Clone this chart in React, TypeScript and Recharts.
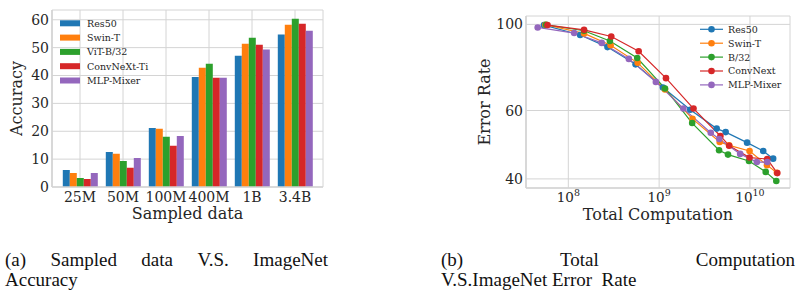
import React from "react";
import { BarChart, Bar, LineChart, Line, XAxis, YAxis, CartesianGrid } from "recharts";

// (a) accuracy vs sampled data size
const dataSizes = ["25M", "50M", "100M", "400M", "1B", "3.4B"];
const res50Acc = [6.1, 12.6, 21.2, 39.5, 47.1, 54.7];
const swinAcc = [5.0, 11.9, 20.9, 42.8, 51.4, 58.2];
const vitAcc = [3.2, 9.3, 18.0, 44.2, 53.5, 60.4];
const convnextAcc = [2.9, 6.9, 14.8, 39.2, 51.0, 58.6];
const mlpAcc = [5.0, 10.4, 18.3, 39.2, 49.3, 56.1];
const accTicks = [0, 10, 20, 30, 40, 50, 60];
const barNames = ["Res50", "Swin-T", "ViT-B/32", "ConvNeXt-Ti", "MLP-Mixer"];
const barKeys = ["res50", "swin", "vit", "convnext", "mlp"];

// (b) error rate vs total computation
const res50Compute = [5.4e7, 1.35e8, 2.7e8, 5.5e8, 1.1e9, 2.2e9, 4.3e9, 5.4e9, 9.3e9, 1.4e10, 1.8e10];
const res50Error = [99.6, 93.9, 87.4, 78.9, 68.8, 60.3, 53.9, 52.8, 49.6, 47.2, 45.1];
const swinCompute = [5.6e7, 1.49e8, 2.92e8, 5.8e8, 1.16e9, 2.33e9, 4.64e9, 5.9e9, 9.9e9, 1.54e10, 1.98e10];
const swinError = [99.8, 94.8, 88.4, 79.6, 68.0, 57.1, 49.8, 48.8, 47.2, 43.4, 41.5];
const vitCompute = [5.7e7, 1.49e8, 2.87e8, 5.74e8, 1.16e9, 2.31e9, 4.57e9, 5.73e9, 9.75e9, 1.49e10, 1.95e10];
const vitError = [99.8, 96.3, 90.6, 81.9, 68.4, 55.7, 47.4, 46.2, 44.5, 41.7, 39.5];
const convCompute = [5.9e7, 1.49e8, 2.97e8, 5.95e8, 1.19e9, 2.39e9, 4.73e9, 5.9e9, 9.9e9, 1.55e10, 2.0e10];
const convError = [99.6, 96.8, 93.1, 85.3, 72.7, 60.7, 51.6, 48.7, 45.4, 45.0, 41.4];
const mlpCompute = [4.6e7, 1.16e8, 2.33e8, 4.64e8, 9.2e8, 1.85e9, 3.7e9, 4.6e9, 7.8e9, 1.19e10, 1.55e10];
const mlpError = [98.2, 95.0, 89.6, 81.5, 71.1, 60.7, 52.6, 50.7, 46.4, 44.2, 44.2];
const lineNames = ["Res50", "Swin-T", "B/32", "ConvNext", "MLP-Mixer"];
const computeTicks = [1e8, 1e9, 1e10];
const errorTicks = [40, 60, 100];

const COLORS = ["#1f77b4", "#ff7f0e", "#2ca02c", "#d62728", "#9467bd"];
const GRID = "#d4d4d4";
const TEXT = "#262626";
const SERIF = "'DejaVu Serif', serif";
const frameLine = { stroke: "#d4d4d4", strokeWidth: 1.6 };

const accSeries = [res50Acc, swinAcc, vitAcc, convnextAcc, mlpAcc];
const barData = dataSizes.map((size, i) => {
  const row: any = { size };
  barKeys.forEach((k, j) => {
    row[k] = accSeries[j][i];
  });
  return row;
});

const computeSeries = [res50Compute, swinCompute, vitCompute, convCompute, mlpCompute];
const errorSeries = [res50Error, swinError, vitError, convError, mlpError];
const lineData = computeSeries.map((xs, j) => xs.map((x, i) => ({ x, y: errorSeries[j][i] })));

const tickStyle = { fontSize: 14, fill: TEXT, fontFamily: SERIF };

function PowerTick(props: any) {
  const { x, y, payload } = props;
  const exp = Math.round(Math.log10(payload.value));
  return (
    <text x={x} y={y + 14} textAnchor="middle" fontFamily={SERIF} fill={TEXT}>
      <tspan fontSize={13.5}>10</tspan>
      <tspan fontSize={9.5} dy={-6}>{exp}</tspan>
    </text>
  );
}

function xTitle(text: string, dy: number) {
  return {
    value: text,
    content: (p: any) => (
      <text
        x={p.viewBox.x + p.viewBox.width / 2}
        y={p.viewBox.y + dy}
        textAnchor="middle"
        fontSize={16}
        fontFamily={SERIF}
        fill={TEXT}
      >
        {text}
      </text>
    ),
  };
}

function yTitle(text: string, baseX: number) {
  return {
    value: text,
    content: (p: any) => {
      const cy = p.viewBox.y + p.viewBox.height / 2;
      return (
        <text
          x={baseX}
          y={cy}
          transform={`rotate(-90, ${baseX}, ${cy})`}
          textAnchor="middle"
          fontSize={16}
          fontFamily={SERIF}
          fill={TEXT}
        >
          {text}
        </text>
      );
    },
  };
}

function AccuracyChart() {
  return (
    <BarChart
      width={330}
      height={225}
      data={barData}
      margin={{ top: 10, right: 7, left: 0, bottom: 0 }}
      barCategoryGap="10%"
      barGap={0}
    >
      <CartesianGrid stroke={GRID} strokeWidth={1} />
      <XAxis
        dataKey="size"
        interval={0}
        padding={{ left: 6.5, right: 6.5 }}
        height={38}
        tickLine={false}
        tickSize={0}
        tickMargin={5}
        axisLine={frameLine}
        tick={tickStyle}
        label={xTitle("Sampled data", 32)}
      />
      <XAxis xAxisId="top" orientation="top" dataKey="size" height={0} tick={false} tickLine={false} axisLine={frameLine} padding={{ left: 6.5, right: 6.5 }} />
      <YAxis
        type="number"
        domain={[0, 63.5]}
        allowDataOverflow
        ticks={accTicks}
        width={52}
        tickLine={false}
        tickSize={0}
        tickMargin={3}
        axisLine={frameLine}
        tick={tickStyle}
        label={yTitle("Accuracy", 21.5)}
      />
      <YAxis yAxisId="right" orientation="right" type="number" domain={[0, 63.5]} width={0} tick={false} tickLine={false} axisLine={frameLine} />
      {barKeys.map((k, j) => (
        <Bar key={k} dataKey={k} name={barNames[j]} fill={COLORS[j]} isAnimationActive={false} />
      ))}
    </BarChart>
  );
}

function ErrorChart() {
  return (
    <LineChart width={356} height={230} margin={{ top: 16, right: 6, left: 0, bottom: 0 }}>
      <CartesianGrid stroke={GRID} strokeWidth={1} />
      <XAxis
        type="number"
        dataKey="x"
        scale="log"
        domain={[3.42e7, 2.76e10]}
        allowDataOverflow
        ticks={computeTicks}
        height={42}
        tickLine={false}
        tickSize={0}
        tickMargin={0}
        axisLine={frameLine}
        tick={<PowerTick />}
        label={xTitle("Total Computation", 32)}
      />
      <XAxis xAxisId="top" orientation="top" type="number" scale="log" domain={[3.42e7, 2.76e10]} allowDataOverflow height={0} tick={false} tickLine={false} axisLine={frameLine} />
      <YAxis
        type="number"
        scale="log"
        domain={[37.9, 105.1]}
        allowDataOverflow
        ticks={errorTicks}
        width={86}
        tickLine={false}
        tickSize={0}
        tickMargin={3}
        axisLine={frameLine}
        tick={tickStyle}
        label={yTitle("Error Rate", 50)}
      />
      <YAxis yAxisId="right" orientation="right" type="number" scale="log" domain={[37.9, 105.1]} allowDataOverflow width={0} tick={false} tickLine={false} axisLine={frameLine} />
      {lineData.map((pts, j) => (
        <Line
          key={lineNames[j]}
          data={pts}
          dataKey="y"
          name={lineNames[j]}
          stroke={COLORS[j]}
          strokeWidth={1.2}
          dot={{ r: 3.3, fill: COLORS[j], stroke: COLORS[j], strokeWidth: 0 }}
          activeDot={false}
          isAnimationActive={false}
        />
      ))}
    </LineChart>
  );
}

function Legends() {
  return (
    <svg width={796} height={290} style={{ position: "absolute", left: 0, top: 0, pointerEvents: "none" }}>
      {barNames.map((n, i) => {
        const cy = 23.3 + i * 14.3;
        return (
          <g key={n}>
            <rect x={60} y={cy - 3} width={20} height={6} fill={COLORS[i]} />
            <text x={87} y={cy + 3.4} fontSize={9.5} fontFamily={SERIF} fill={TEXT}>
              {n}
            </text>
          </g>
        );
      })}
      {lineNames.map((n, i) => {
        const cy = 29.3 + i * 13.9;
        return (
          <g key={n}>
            <line x1={700} x2={723} y1={cy} y2={cy} stroke={COLORS[i]} strokeWidth={1.2} />
            <circle cx={711.5} cy={cy} r={3.3} fill={COLORS[i]} />
            <text x={728} y={cy + 3.4} fontSize={9.5} fontFamily={SERIF} fill={TEXT}>
              {n}
            </text>
          </g>
        );
      })}
    </svg>
  );
}

const capStyle: React.CSSProperties = {
  position: "absolute",
  fontFamily: "'Liberation Serif', serif",
  fontSize: 19,
  lineHeight: "19px",
  color: "#111",
  whiteSpace: "nowrap",
};

function Captions() {
  const justified = (words: string[], left: number, top: number, width: number) => (
    <div style={{ ...capStyle, left, top, width, display: "flex", justifyContent: "space-between" }}>
      {words.map((w) => (
        <span key={w}>{w}</span>
      ))}
    </div>
  );
  return (
    <>
      {justified(["(a)", "Sampled", "data", "V.S.", "ImageNet"], 5, 250, 323)}
      <div style={{ ...capStyle, left: 5, top: 270 }}>Accuracy</div>
      {justified(["(b)", "Total", "Computation"], 441, 250, 354)}
      <div style={{ ...capStyle, left: 441, top: 270 }}>V.S.ImageNet Error&nbsp;&nbsp;Rate</div>
    </>
  );
}

export default function App() {
  return (
    <div style={{ position: "absolute", left: 0, top: 0, width: 796, height: 290, background: "#fff", overflow: "hidden" }}>
      <div style={{ position: "absolute", left: 0, top: 0 }}>
        <AccuracyChart />
      </div>
      <div style={{ position: "absolute", left: 440, top: 0 }}>
        <ErrorChart />
      </div>
      <Legends />
      <Captions />
    </div>
  );
}
